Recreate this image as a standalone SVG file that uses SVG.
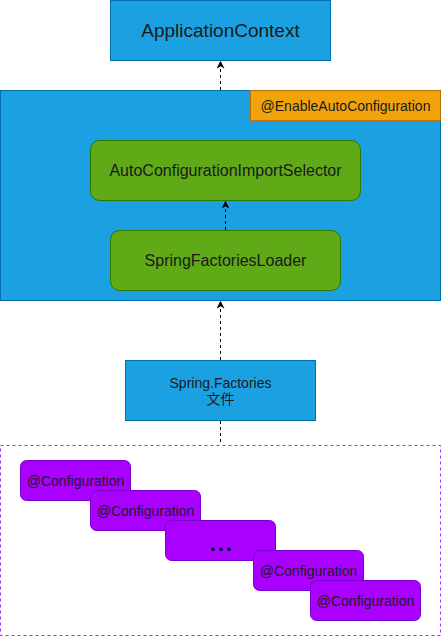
<svg xmlns="http://www.w3.org/2000/svg" width="441" height="636" viewBox="0 0 441 636">
<defs>
<style>
text{font-family:"Liberation Sans",Arial,"Noto Sans CJK SC",sans-serif;fill:#1a1a1a;text-anchor:middle}
.blue{fill:#1ba1e2;stroke:#006eaf}
.green{fill:#60a917;stroke:#2d7600}
.orange{fill:#f0a30a;stroke:#bd7000}
.purple{fill:#aa00ff;stroke:#7700cc}
.conn{stroke:#000;stroke-width:1;stroke-dasharray:3 3;fill:none}
</style>
<marker id="arr" viewBox="0 0 10 10" refX="9" refY="5" markerWidth="8" markerHeight="8" markerUnits="userSpaceOnUse" orient="auto">
<path d="M0,0 L10,5 L0,10 L3,5 Z" fill="#000"/>
</marker>
</defs>
<g id="app-context"><rect class="blue" x="110.5" y="0.5" width="220" height="60"/><text x="220.5" y="37" font-size="19">ApplicationContext</text></g>
<g id="container"><rect class="blue" x="0.5" y="90.5" width="440" height="210"/></g>
<g id="enable-auto"><rect class="orange" x="250.5" y="90.5" width="190" height="30"/><text x="345.5" y="111" font-size="14">@EnableAutoConfiguration</text></g>
<g id="selector"><rect class="green" x="90.5" y="140.5" width="270" height="60" rx="9"/><text x="225.5" y="176" font-size="16">AutoConfigurationImportSelector</text></g>
<g id="loader"><rect class="green" x="110.5" y="230.5" width="230" height="60" rx="9"/><text x="225.5" y="266" font-size="16">SpringFactoriesLoader</text></g>
<g id="factories"><rect class="blue" x="125.5" y="360.5" width="190" height="60"/><text x="220.5" y="388" font-size="14">Spring.Factories</text><text x="220.5" y="404" font-size="14">文件</text></g>
<g id="config-group"><rect x="0.5" y="445.5" width="440" height="190" fill="none" stroke="#9933ff" stroke-dasharray="3 3"/></g>
<g id="config1"><rect class="purple" x="20.5" y="460.5" width="110" height="40" rx="6"/><text x="75.5" y="486" font-size="14">@Configuration</text></g>
<g id="config2"><rect class="purple" x="90.5" y="490.5" width="110" height="40" rx="6"/><text x="145.5" y="516" font-size="14">@Configuration</text></g>
<g id="config3"><rect class="purple" x="165.5" y="520.5" width="110" height="40" rx="6"/><text x="221" y="551" font-size="29" fill="#000" style="fill:#000">...</text></g>
<g id="config4"><rect class="purple" x="253.5" y="550.5" width="110" height="40" rx="6"/><text x="308.5" y="576" font-size="14">@Configuration</text></g>
<g id="config5"><rect class="purple" x="310.5" y="580.5" width="110" height="40" rx="6"/><text x="365.5" y="606" font-size="14">@Configuration</text></g>
<g id="connectors">
<path class="conn" d="M220.5,90 L220.5,61.5" marker-end="url(#arr)"/>
<path class="conn" d="M225.5,230 L225.5,201.5" marker-end="url(#arr)"/>
<path class="conn" d="M220.5,360 L220.5,301.5" marker-end="url(#arr)"/>
<path class="conn" d="M220.5,421 L220.5,445"/>
</g>
</svg>
